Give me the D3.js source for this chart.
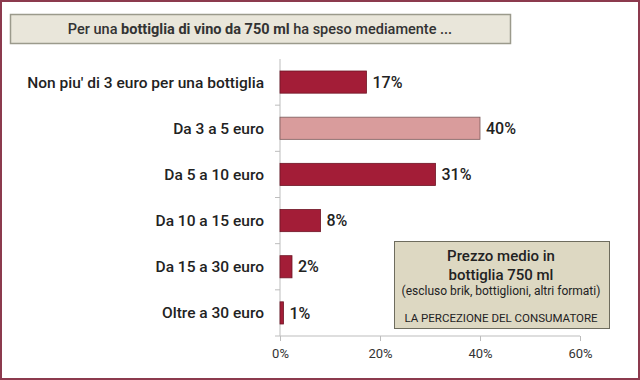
<!DOCTYPE html>
<html>
<head>
<meta charset="utf-8">
<script src="https://cdn.jsdelivr.net/npm/d3@7"></script>
<style>
  html, body { margin: 0; padding: 0; background: #fff; }
  #chart { width: 640px; height: 380px; }
  text { font-family: Roboto, "Noto Sans", sans-serif; }
</style>
</head>
<body>
<div id="chart"></div>
<script>
// Data
const categories = [
  "Non piu' di 3 euro per una bottiglia",
  "Da 3 a 5 euro",
  "Da 5 a 10 euro",
  "Da 10 a 15 euro",
  "Da 15 a 30 euro",
  "Oltre a 30 euro",
];
const values = [17.3, 40, 31.1, 8.1, 2.4, 0.7];
const valueLabels = ["17%", "40%", "31%", "8%", "2%", "1%"];
const highlighted = ["Da 3 a 5 euro"];
const xTicks = [0, 20, 40, 60];

const W = 640, H = 380;
const margin = { top: 59, right: 61, bottom: 44, left: 280 };
const width = W - margin.left - margin.right;
const height = H - margin.top - margin.bottom;

const svg = d3.select("#chart").append("svg")
  .attr("width", W)
  .attr("height", H)
  .attr("viewBox", [0, 0, W, H]);

// outer frame
svg.append("rect")
  .attr("x", 1).attr("y", 1)
  .attr("width", W - 2).attr("height", H - 2)
  .attr("fill", "#fff")
  .attr("stroke", "#8c3a4e")
  .attr("stroke-width", 2);

// title box
svg.append("rect")
  .attr("x", 10.5).attr("y", 14.5)
  .attr("width", 500).attr("height", 29)
  .attr("fill", "#e9e6da")
  .attr("stroke", "#9b9a8c")
  .attr("stroke-width", 1.5);

const title = svg.append("text")
  .attr("x", 260).attr("y", 29)
  .attr("dy", "0.35em")
  .attr("text-anchor", "middle")
  .attr("fill", "#333")
  .style("font-size", "14.5px")
  .style("font-weight", 500);
title.append("tspan").text("Per una ");
title.append("tspan").attr("font-weight", "bold").text("bottiglia di vino da 750 ml");
title.append("tspan").text(" ha speso mediamente ...");

const g = svg.append("g")
  .attr("transform", `translate(${margin.left},${margin.top})`);

// Scales
const x = d3.scaleLinear().domain([0, 60]).range([0, 300]);
const y = d3.scaleBand().domain(categories).range([0, height]).paddingInner(0.52).paddingOuter(0.26);

// X axis
g.append("g")
  .attr("transform", `translate(0,${height})`)
  .call(d3.axisBottom(x).tickValues(xTicks).tickFormat((d) => d + "%").tickSize(5).tickPadding(8))
  .call((a) => a.selectAll("path, line").attr("stroke", "#bdbdbd"))
  .call((a) => a.select(".domain").attr("d", `M0,0H${x(60)}`))
  .selectAll("text")
  .attr("fill", "#333")
  .style("font-size", "13px")
  .style("font-family", "Roboto, sans-serif");

// Y axis: line with ticks at band boundaries
const bounds = d3.range(categories.length + 1).map((i) => i * height / categories.length);
const yAxis = g.append("g");
yAxis.append("line")
  .attr("x1", 0).attr("x2", 0)
  .attr("y1", 0).attr("y2", height)
  .attr("stroke", "#bdbdbd");
yAxis.selectAll("line.tick")
  .data(bounds.slice(1))
  .join("line")
  .attr("class", "tick")
  .attr("x1", -5).attr("x2", 0)
  .attr("y1", (d) => d).attr("y2", (d) => d)
  .attr("stroke", "#bdbdbd");

// Category labels
g.selectAll("text.cat")
  .data(categories)
  .join("text")
  .attr("class", "cat")
  .attr("x", -16)
  .attr("y", (d) => y(d) + y.bandwidth() / 2)
  .attr("dy", "0.35em")
  .attr("text-anchor", "end")
  .attr("fill", "#222")
  .style("font-size", "15.5px")
  .style("font-weight", 500)
  .text((d) => d);

// Bars
g.selectAll("rect.bar")
  .data(categories)
  .join("rect")
  .attr("class", "bar")
  .attr("x", x(0))
  .attr("y", (d) => y(d))
  .attr("width", (d, i) => x(values[i]) - x(0))
  .attr("height", y.bandwidth())
  .attr("fill", (d) => highlighted.includes(d) ? "#d99c9c" : "#a31d37")
  .attr("stroke", (d) => highlighted.includes(d) ? "#7a5a5a" : "#6e1525")
  .attr("stroke-width", 0.8);

// Value labels
g.selectAll("text.val")
  .data(categories)
  .join("text")
  .attr("class", "val")
  .attr("x", (d, i) => x(values[i]) + 6)
  .attr("y", (d) => y(d) + y.bandwidth() / 2)
  .attr("dy", "0.35em")
  .attr("fill", "#222")
  .style("font-size", "16px")
  .style("font-weight", 500)
  .text((d, i) => valueLabels[i]);

// Annotation box
const note = svg.append("g");
note.append("rect")
  .attr("x", 394.5).attr("y", 241.5)
  .attr("width", 215).attr("height", 87)
  .attr("fill", "#ddd8c2")
  .attr("stroke", "#6e6c5e")
  .attr("stroke-width", 1);
const cx = 501;
note.append("text").attr("x", cx).attr("y", 256).attr("dy", "0.35em")
  .attr("text-anchor", "middle").attr("fill", "#222")
  .style("font-size", "15px").style("font-weight", 500)
  .text("Prezzo medio in");
note.append("text").attr("x", cx).attr("y", 275).attr("dy", "0.35em")
  .attr("text-anchor", "middle").attr("fill", "#222")
  .style("font-size", "15px").style("font-weight", 500)
  .text("bottiglia 750 ml");
note.append("text").attr("x", cx).attr("y", 291).attr("dy", "0.35em")
  .attr("text-anchor", "middle").attr("fill", "#222")
  .style("font-size", "12px")
  .text("(escluso brik, bottiglioni, altri formati)");
note.append("text").attr("x", cx).attr("y", 318).attr("dy", "0.35em")
  .attr("text-anchor", "middle").attr("fill", "#222")
  .style("font-size", "11.5px")
  .text("LA PERCEZIONE DEL CONSUMATORE");
</script>
</body>
</html>
